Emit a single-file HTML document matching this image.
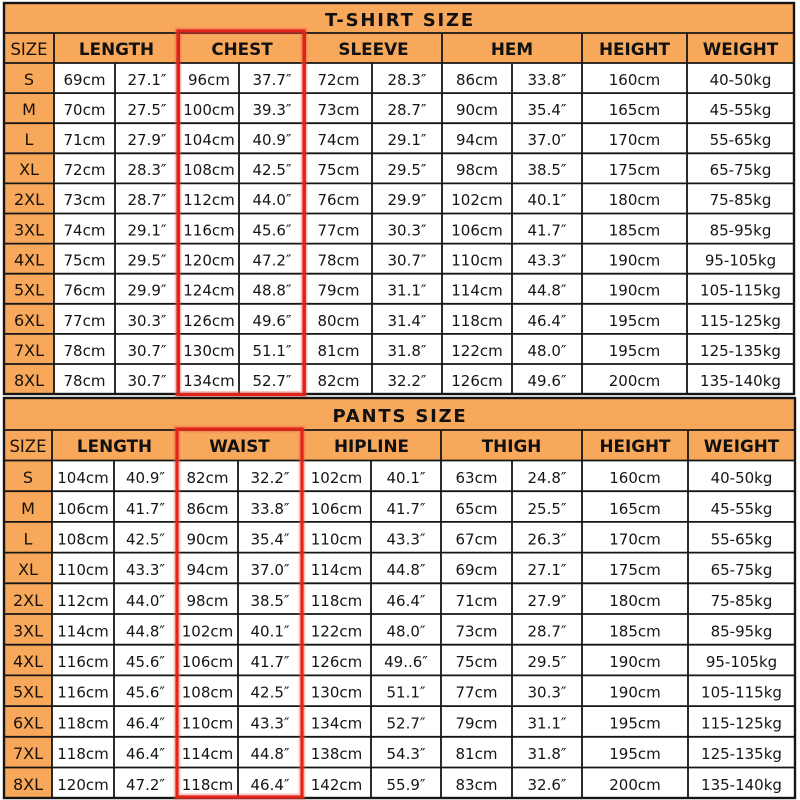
<!DOCTYPE html>
<html><head><meta charset="utf-8"><style>
html,body{margin:0;padding:0;background:#fff;}
svg{display:block;}
.c{font-family:"DejaVu Sans","Liberation Sans",sans-serif;font-size:15px;fill:#151515;text-anchor:middle;}
.s{font-family:"DejaVu Sans","Liberation Sans",sans-serif;font-size:16px;fill:#1a1208;text-anchor:middle;}
.h{font-family:"DejaVu Sans","Liberation Sans",sans-serif;font-size:16.8px;font-weight:bold;fill:#111;text-anchor:middle;}
.t{font-family:"DejaVu Sans","Liberation Sans",sans-serif;font-size:18px;font-weight:bold;fill:#111;text-anchor:middle;letter-spacing:1.8px;}
</style></head><body>
<svg width="800" height="800" viewBox="0 0 800 800" xmlns="http://www.w3.org/2000/svg">
<rect x="0" y="0" width="800" height="800" fill="#fff"/>
<!-- TOP TABLE -->
<rect x="4" y="3" width="790" height="60" fill="#F8A85A"/>
<rect x="4" y="63" width="50" height="331" fill="#F8A85A"/>
<rect x="54" y="63" width="740" height="331" fill="#fff"/>
<g stroke="#161616" stroke-width="1.8" fill="none">
<path d="M4 33H794M4 63H794M4 93.1H794M4 123.2H794M4 153.3H794M4 183.4H794M4 213.5H794M4 243.6H794M4 273.7H794M4 303.8H794M4 333.9H794M4 364H794"/>
<path d="M54 33V63M179 33V63M305 33V63M442 33V63M582 33V63M687 33V63"/>
<path d="M54 63V394M115 63V394M179 63V394M239 63V394M305 63V394M372 63V394M442 63V394M512 63V394M582 63V394M687 63V394"/>
<rect x="4" y="3" width="790" height="391" stroke-width="2.4"/>
</g>
<text class="t" x="400" y="26">T-SHIRT SIZE</text>
<text class="s" x="29" y="55" style="font-size:16.5px">SIZE</text>
<text class="h" y="55"><tspan x="116.5">LENGTH</tspan><tspan x="242">CHEST</tspan><tspan x="373.5">SLEEVE</tspan><tspan x="512">HEM</tspan><tspan x="634.5">HEIGHT</tspan><tspan x="740.5">WEIGHT</tspan></text>

<text class="s" x="29" y="85">S</text>
<text class="s" x="29" y="115">M</text>
<text class="s" x="29" y="145">L</text>
<text class="s" x="29" y="175">XL</text>
<text class="s" x="29" y="205">2XL</text>
<text class="s" x="29" y="235.5">3XL</text>
<text class="s" x="29" y="265.5">4XL</text>
<text class="s" x="29" y="295.5">5XL</text>
<text class="s" x="29" y="326">6XL</text>
<text class="s" x="29" y="356">7XL</text>
<text class="s" x="29" y="386">8XL</text>

<text class="c" y="85"><tspan x="84.5">69cm</tspan><tspan x="147">27.1″</tspan><tspan x="209">96cm</tspan><tspan x="272">37.7″</tspan><tspan x="338.5">72cm</tspan><tspan x="407">28.3″</tspan><tspan x="477">86cm</tspan><tspan x="547">33.8″</tspan><tspan x="634.5">160cm</tspan><tspan x="740.5">40-50kg</tspan></text>
<text class="c" y="115"><tspan x="84.5">70cm</tspan><tspan x="147">27.5″</tspan><tspan x="209">100cm</tspan><tspan x="272">39.3″</tspan><tspan x="338.5">73cm</tspan><tspan x="407">28.7″</tspan><tspan x="477">90cm</tspan><tspan x="547">35.4″</tspan><tspan x="634.5">165cm</tspan><tspan x="740.5">45-55kg</tspan></text>
<text class="c" y="145"><tspan x="84.5">71cm</tspan><tspan x="147">27.9″</tspan><tspan x="209">104cm</tspan><tspan x="272">40.9″</tspan><tspan x="338.5">74cm</tspan><tspan x="407">29.1″</tspan><tspan x="477">94cm</tspan><tspan x="547">37.0″</tspan><tspan x="634.5">170cm</tspan><tspan x="740.5">55-65kg</tspan></text>
<text class="c" y="175"><tspan x="84.5">72cm</tspan><tspan x="147">28.3″</tspan><tspan x="209">108cm</tspan><tspan x="272">42.5″</tspan><tspan x="338.5">75cm</tspan><tspan x="407">29.5″</tspan><tspan x="477">98cm</tspan><tspan x="547">38.5″</tspan><tspan x="634.5">175cm</tspan><tspan x="740.5">65-75kg</tspan></text>
<text class="c" y="205"><tspan x="84.5">73cm</tspan><tspan x="147">28.7″</tspan><tspan x="209">112cm</tspan><tspan x="272">44.0″</tspan><tspan x="338.5">76cm</tspan><tspan x="407">29.9″</tspan><tspan x="477">102cm</tspan><tspan x="547">40.1″</tspan><tspan x="634.5">180cm</tspan><tspan x="740.5">75-85kg</tspan></text>
<text class="c" y="235.5"><tspan x="84.5">74cm</tspan><tspan x="147">29.1″</tspan><tspan x="209">116cm</tspan><tspan x="272">45.6″</tspan><tspan x="338.5">77cm</tspan><tspan x="407">30.3″</tspan><tspan x="477">106cm</tspan><tspan x="547">41.7″</tspan><tspan x="634.5">185cm</tspan><tspan x="740.5">85-95kg</tspan></text>
<text class="c" y="265.5"><tspan x="84.5">75cm</tspan><tspan x="147">29.5″</tspan><tspan x="209">120cm</tspan><tspan x="272">47.2″</tspan><tspan x="338.5">78cm</tspan><tspan x="407">30.7″</tspan><tspan x="477">110cm</tspan><tspan x="547">43.3″</tspan><tspan x="634.5">190cm</tspan><tspan x="740.5">95-105kg</tspan></text>
<text class="c" y="295.5"><tspan x="84.5">76cm</tspan><tspan x="147">29.9″</tspan><tspan x="209">124cm</tspan><tspan x="272">48.8″</tspan><tspan x="338.5">79cm</tspan><tspan x="407">31.1″</tspan><tspan x="477">114cm</tspan><tspan x="547">44.8″</tspan><tspan x="634.5">190cm</tspan><tspan x="740.5">105-115kg</tspan></text>
<text class="c" y="326"><tspan x="84.5">77cm</tspan><tspan x="147">30.3″</tspan><tspan x="209">126cm</tspan><tspan x="272">49.6″</tspan><tspan x="338.5">80cm</tspan><tspan x="407">31.4″</tspan><tspan x="477">118cm</tspan><tspan x="547">46.4″</tspan><tspan x="634.5">195cm</tspan><tspan x="740.5">115-125kg</tspan></text>
<text class="c" y="356"><tspan x="84.5">78cm</tspan><tspan x="147">30.7″</tspan><tspan x="209">130cm</tspan><tspan x="272">51.1″</tspan><tspan x="338.5">81cm</tspan><tspan x="407">31.8″</tspan><tspan x="477">122cm</tspan><tspan x="547">48.0″</tspan><tspan x="634.5">195cm</tspan><tspan x="740.5">125-135kg</tspan></text>
<text class="c" y="386"><tspan x="84.5">78cm</tspan><tspan x="147">30.7″</tspan><tspan x="209">134cm</tspan><tspan x="272">52.7″</tspan><tspan x="338.5">82cm</tspan><tspan x="407">32.2″</tspan><tspan x="477">126cm</tspan><tspan x="547">49.6″</tspan><tspan x="634.5">200cm</tspan><tspan x="740.5">135-140kg</tspan></text>

<!-- red box top -->
<rect x="178" y="31" width="126" height="363.5" fill="none" stroke="#ef5a50" stroke-opacity="0.35" stroke-width="7"/>
<rect x="178" y="31" width="126" height="363.5" fill="none" stroke="#e0241a" stroke-width="3.2"/>

<!-- BOTTOM TABLE -->
<rect x="4" y="398" width="791" height="62.5" fill="#F8A85A"/>
<rect x="4" y="460.5" width="48" height="337.5" fill="#F8A85A"/>
<rect x="52" y="460.5" width="743" height="337.5" fill="#fff"/>
<g stroke="#161616" stroke-width="1.8" fill="none">
<path d="M4 430H795M4 460.5H795M4 491.2H795M4 521.9H795M4 552.6H795M4 583.3H795M4 614H795M4 644.7H795M4 675.4H795M4 706.1H795M4 736.8H795M4 767.5H795"/>
<path d="M52 430V460.5M177 430V460.5M302 430V460.5M441 430V460.5M582 430V460.5M688 430V460.5"/>
<path d="M52 460.5V798M114 460.5V798M177 460.5V798M238 460.5V798M302 460.5V798M371 460.5V798M441 460.5V798M512 460.5V798M582 460.5V798M688 460.5V798"/>
<rect x="4" y="398" width="791" height="400" stroke-width="2.4"/>
</g>
<text class="t" x="400" y="422">PANTS SIZE</text>
<text class="s" x="28" y="452" style="font-size:16.5px">SIZE</text>
<text class="h" y="452"><tspan x="114.5">LENGTH</tspan><tspan x="239.5">WAIST</tspan><tspan x="371.5">HIPLINE</tspan><tspan x="511.5">THIGH</tspan><tspan x="635">HEIGHT</tspan><tspan x="741.5">WEIGHT</tspan></text>

<text class="s" x="28" y="483">S</text>
<text class="s" x="28" y="514">M</text>
<text class="s" x="28" y="544.5">L</text>
<text class="s" x="28" y="575">XL</text>
<text class="s" x="28" y="606">2XL</text>
<text class="s" x="28" y="636.5">3XL</text>
<text class="s" x="28" y="667">4XL</text>
<text class="s" x="28" y="697.5">5XL</text>
<text class="s" x="28" y="728.5">6XL</text>
<text class="s" x="28" y="759">7XL</text>
<text class="s" x="28" y="790">8XL</text>

<text class="c" y="483"><tspan x="83">104cm</tspan><tspan x="145.5">40.9″</tspan><tspan x="207.5">82cm</tspan><tspan x="270">32.2″</tspan><tspan x="336.5">102cm</tspan><tspan x="406">40.1″</tspan><tspan x="476.5">63cm</tspan><tspan x="547">24.8″</tspan><tspan x="635">160cm</tspan><tspan x="741.5">40-50kg</tspan></text>
<text class="c" y="514"><tspan x="83">106cm</tspan><tspan x="145.5">41.7″</tspan><tspan x="207.5">86cm</tspan><tspan x="270">33.8″</tspan><tspan x="336.5">106cm</tspan><tspan x="406">41.7″</tspan><tspan x="476.5">65cm</tspan><tspan x="547">25.5″</tspan><tspan x="635">165cm</tspan><tspan x="741.5">45-55kg</tspan></text>
<text class="c" y="544.5"><tspan x="83">108cm</tspan><tspan x="145.5">42.5″</tspan><tspan x="207.5">90cm</tspan><tspan x="270">35.4″</tspan><tspan x="336.5">110cm</tspan><tspan x="406">43.3″</tspan><tspan x="476.5">67cm</tspan><tspan x="547">26.3″</tspan><tspan x="635">170cm</tspan><tspan x="741.5">55-65kg</tspan></text>
<text class="c" y="575"><tspan x="83">110cm</tspan><tspan x="145.5">43.3″</tspan><tspan x="207.5">94cm</tspan><tspan x="270">37.0″</tspan><tspan x="336.5">114cm</tspan><tspan x="406">44.8″</tspan><tspan x="476.5">69cm</tspan><tspan x="547">27.1″</tspan><tspan x="635">175cm</tspan><tspan x="741.5">65-75kg</tspan></text>
<text class="c" y="606"><tspan x="83">112cm</tspan><tspan x="145.5">44.0″</tspan><tspan x="207.5">98cm</tspan><tspan x="270">38.5″</tspan><tspan x="336.5">118cm</tspan><tspan x="406">46.4″</tspan><tspan x="476.5">71cm</tspan><tspan x="547">27.9″</tspan><tspan x="635">180cm</tspan><tspan x="741.5">75-85kg</tspan></text>
<text class="c" y="636.5"><tspan x="83">114cm</tspan><tspan x="145.5">44.8″</tspan><tspan x="207.5">102cm</tspan><tspan x="270">40.1″</tspan><tspan x="336.5">122cm</tspan><tspan x="406">48.0″</tspan><tspan x="476.5">73cm</tspan><tspan x="547">28.7″</tspan><tspan x="635">185cm</tspan><tspan x="741.5">85-95kg</tspan></text>
<text class="c" y="667"><tspan x="83">116cm</tspan><tspan x="145.5">45.6″</tspan><tspan x="207.5">106cm</tspan><tspan x="270">41.7″</tspan><tspan x="336.5">126cm</tspan><tspan x="406">49..6″</tspan><tspan x="476.5">75cm</tspan><tspan x="547">29.5″</tspan><tspan x="635">190cm</tspan><tspan x="741.5">95-105kg</tspan></text>
<text class="c" y="697.5"><tspan x="83">116cm</tspan><tspan x="145.5">45.6″</tspan><tspan x="207.5">108cm</tspan><tspan x="270">42.5″</tspan><tspan x="336.5">130cm</tspan><tspan x="406">51.1″</tspan><tspan x="476.5">77cm</tspan><tspan x="547">30.3″</tspan><tspan x="635">190cm</tspan><tspan x="741.5">105-115kg</tspan></text>
<text class="c" y="728.5"><tspan x="83">118cm</tspan><tspan x="145.5">46.4″</tspan><tspan x="207.5">110cm</tspan><tspan x="270">43.3″</tspan><tspan x="336.5">134cm</tspan><tspan x="406">52.7″</tspan><tspan x="476.5">79cm</tspan><tspan x="547">31.1″</tspan><tspan x="635">195cm</tspan><tspan x="741.5">115-125kg</tspan></text>
<text class="c" y="759"><tspan x="83">118cm</tspan><tspan x="145.5">46.4″</tspan><tspan x="207.5">114cm</tspan><tspan x="270">44.8″</tspan><tspan x="336.5">138cm</tspan><tspan x="406">54.3″</tspan><tspan x="476.5">81cm</tspan><tspan x="547">31.8″</tspan><tspan x="635">195cm</tspan><tspan x="741.5">125-135kg</tspan></text>
<text class="c" y="790"><tspan x="83">120cm</tspan><tspan x="145.5">47.2″</tspan><tspan x="207.5">118cm</tspan><tspan x="270">46.4″</tspan><tspan x="336.5">142cm</tspan><tspan x="406">55.9″</tspan><tspan x="476.5">83cm</tspan><tspan x="547">32.6″</tspan><tspan x="635">200cm</tspan><tspan x="741.5">135-140kg</tspan></text>

<!-- red box bottom -->
<rect x="177" y="429" width="125" height="368" fill="none" stroke="#ef5a50" stroke-opacity="0.35" stroke-width="7"/>
<rect x="177" y="429" width="125" height="368" fill="none" stroke="#e0241a" stroke-width="3.2"/>
</svg>
</body></html>
